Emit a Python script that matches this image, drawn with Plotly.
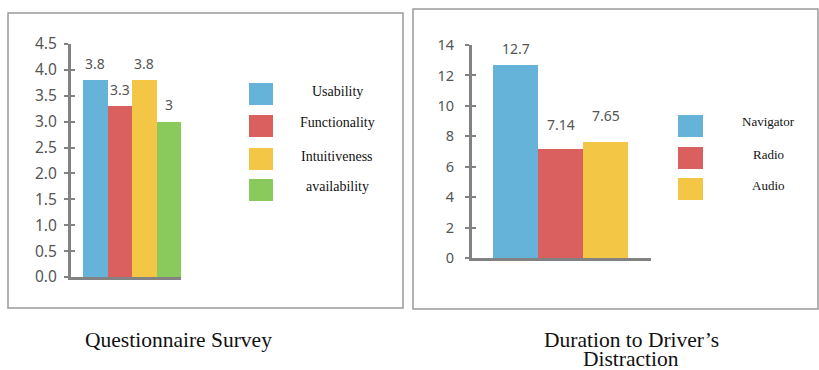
import plotly.graph_objects as go

W, H = 819, 370

# ---- data ----
survey_categories = ["Usability", "Functionality", "Intuitiveness", "availability"]
survey_values = [3.8, 3.3, 3.8, 3.0]
survey_labels = ["3.8", "3.3", "3.8", "3"]
survey_colors = ["#66B3DA", "#D9605F", "#F3C645", "#8ACA5D"]

duration_categories = ["Navigator", "Radio", "Audio"]
duration_values = [12.7, 7.14, 7.65]
duration_labels = ["12.7", "7.14", "7.65"]
duration_colors = ["#66B3DA", "#D9605F", "#F3C645"]

caption_left = "Questionnaire Survey"
caption_right_lines = ["Duration to Driver’s", "Distraction"]


def px(x):
    return x / W


def py(y):
    return 1 - y / H


fig = go.Figure()

fig.add_trace(go.Bar(x=survey_categories, y=survey_values, marker=dict(color=survey_colors, line=dict(width=0)),
                     xaxis="x", yaxis="y", showlegend=False, hoverinfo="x+y"))
fig.add_trace(go.Bar(x=duration_categories, y=duration_values, marker=dict(color=duration_colors, line=dict(width=0)),
                     xaxis="x2", yaxis="y2", showlegend=False, hoverinfo="x+y"))
# empty traces so the overlay axes (inner half of the crossing ticks) are drawn
fig.add_trace(go.Scatter(x=[None], y=[None], xaxis="x", yaxis="y3", showlegend=False, hoverinfo="skip"))
fig.add_trace(go.Scatter(x=[None], y=[None], xaxis="x2", yaxis="y4", showlegend=False, hoverinfo="skip"))

AX = "#828282"
sans = "Noto Sans, Open Sans, sans-serif"


def yax(domain, rng, dtick, anchor, size, standoff, fmt=None, ticks="outside", labels=True, overlay=None):
    d = dict(domain=domain, range=rng, dtick=dtick, anchor=anchor, showgrid=False, zeroline=False,
             showline=True, linecolor=AX, linewidth=3, ticks=ticks, ticklen=4, tickwidth=2, tickcolor=AX,
             tickfont=dict(family=sans, size=size, color="#555555"), automargin=False,
             showticklabels=labels, ticklabelstandoff=standoff, fixedrange=True)
    if fmt:
        d["tickformat"] = fmt
    if overlay:
        d["overlaying"] = overlay
    return d


def xax(domain, rng, anchor):
    return dict(domain=domain, type="category", range=rng, showgrid=False, zeroline=False,
                showline=True, linecolor=AX, linewidth=3, showticklabels=False, ticks="", anchor=anchor,
                automargin=False, fixedrange=True)


ydomL = [py(277), py(44)]
ydomR = [py(258), py(45)]

fig.update_layout(
    width=W, height=H,
    margin=dict(l=0, r=0, t=0, b=0, pad=0, autoexpand=False),
    paper_bgcolor="white", plot_bgcolor="rgba(0,0,0,0)",
    bargap=0,
    xaxis=xax([px(71), px(181)], [-0.99, 3.5], "y"),
    yaxis=yax(ydomL, [0, 4.5], 0.5, "x", 15.5, 4, fmt=".1f"),
    yaxis3=yax(ydomL, [0, 4.5], 0.5, "x", 15.5, 4, ticks="inside", labels=False, overlay="y"),
    xaxis2=xax([px(472), px(651)], [-0.967, 3.011], "y2"),
    yaxis2=yax(ydomR, [0, 14], 2, "x2", 14.5, 8),
    yaxis4=yax(ydomR, [0, 14], 2, "x2", 14.5, 8, ticks="inside", labels=False, overlay="y2"),
)

shapes = []
annotations = []

# panel borders
shapes.append(dict(type="rect", xref="paper", yref="paper", x0=px(8), x1=px(403), y0=py(308), y1=py(13),
                   line=dict(color="#9a9a9a", width=1.5), layer="below"))
shapes.append(dict(type="rect", xref="paper", yref="paper", x0=px(413), x1=px(818), y0=py(309), y1=py(9),
                   line=dict(color="#9a9a9a", width=1.5), layer="below"))

labelfont = dict(family=sans, size=14, color="#555555")

# data labels
for c, v, t in zip(survey_categories, survey_values, survey_labels):
    annotations.append(dict(x=c, y=v, xref="x", yref="y", text=t, showarrow=False, yanchor="middle",
                            yshift=17, font=labelfont))
right_shifts = [16, 25, 26]
for c, v, t, s in zip(duration_categories, duration_values, duration_labels, right_shifts):
    annotations.append(dict(x=c, y=v, xref="x2", yref="y2", text=t, showarrow=False, yanchor="middle",
                            yshift=s, font=labelfont))

# legends
serif = "Liberation Serif, Times New Roman, serif"
left_leg_y = [94, 126, 159, 190]
for c, col, yc in zip(survey_categories, survey_colors, left_leg_y):
    shapes.append(dict(type="rect", xref="paper", yref="paper", x0=px(249), x1=px(273),
                       y0=py(yc + 11), y1=py(yc - 11), fillcolor=col, line=dict(width=0)))
    annotations.append(dict(x=px(337), y=py(yc - 3), xref="paper", yref="paper", text=c, showarrow=False,
                            xanchor="center", yanchor="middle",
                            font=dict(family=serif, size=14, color="#111111")))
right_leg_y = [126, 158, 189]
for c, col, yc in zip(duration_categories, duration_colors, right_leg_y):
    shapes.append(dict(type="rect", xref="paper", yref="paper", x0=px(678), x1=px(703),
                       y0=py(yc + 11), y1=py(yc - 11), fillcolor=col, line=dict(width=0)))
    annotations.append(dict(x=px(768), y=py(yc - 4), xref="paper", yref="paper", text=c, showarrow=False,
                            xanchor="center", yanchor="middle",
                            font=dict(family=serif, size=13, color="#111111")))

# captions
capfont = dict(family=serif, size=21.5, color="#111111")
annotations.append(dict(x=px(178), y=py(340), xref="paper", yref="paper", text=caption_left, showarrow=False,
                        xanchor="center", yanchor="middle", font=capfont))
for line, yc in zip(caption_right_lines, [340, 359]):
    annotations.append(dict(x=px(631), y=py(yc), xref="paper", yref="paper", text=line, showarrow=False,
                            xanchor="center", yanchor="middle", font=capfont))

fig.update_layout(shapes=shapes, annotations=annotations)

fig.write_html("out.html", config={"displayModeBar": False},
               post_script="document.body.style.margin='0';document.body.style.overflow='hidden';")
